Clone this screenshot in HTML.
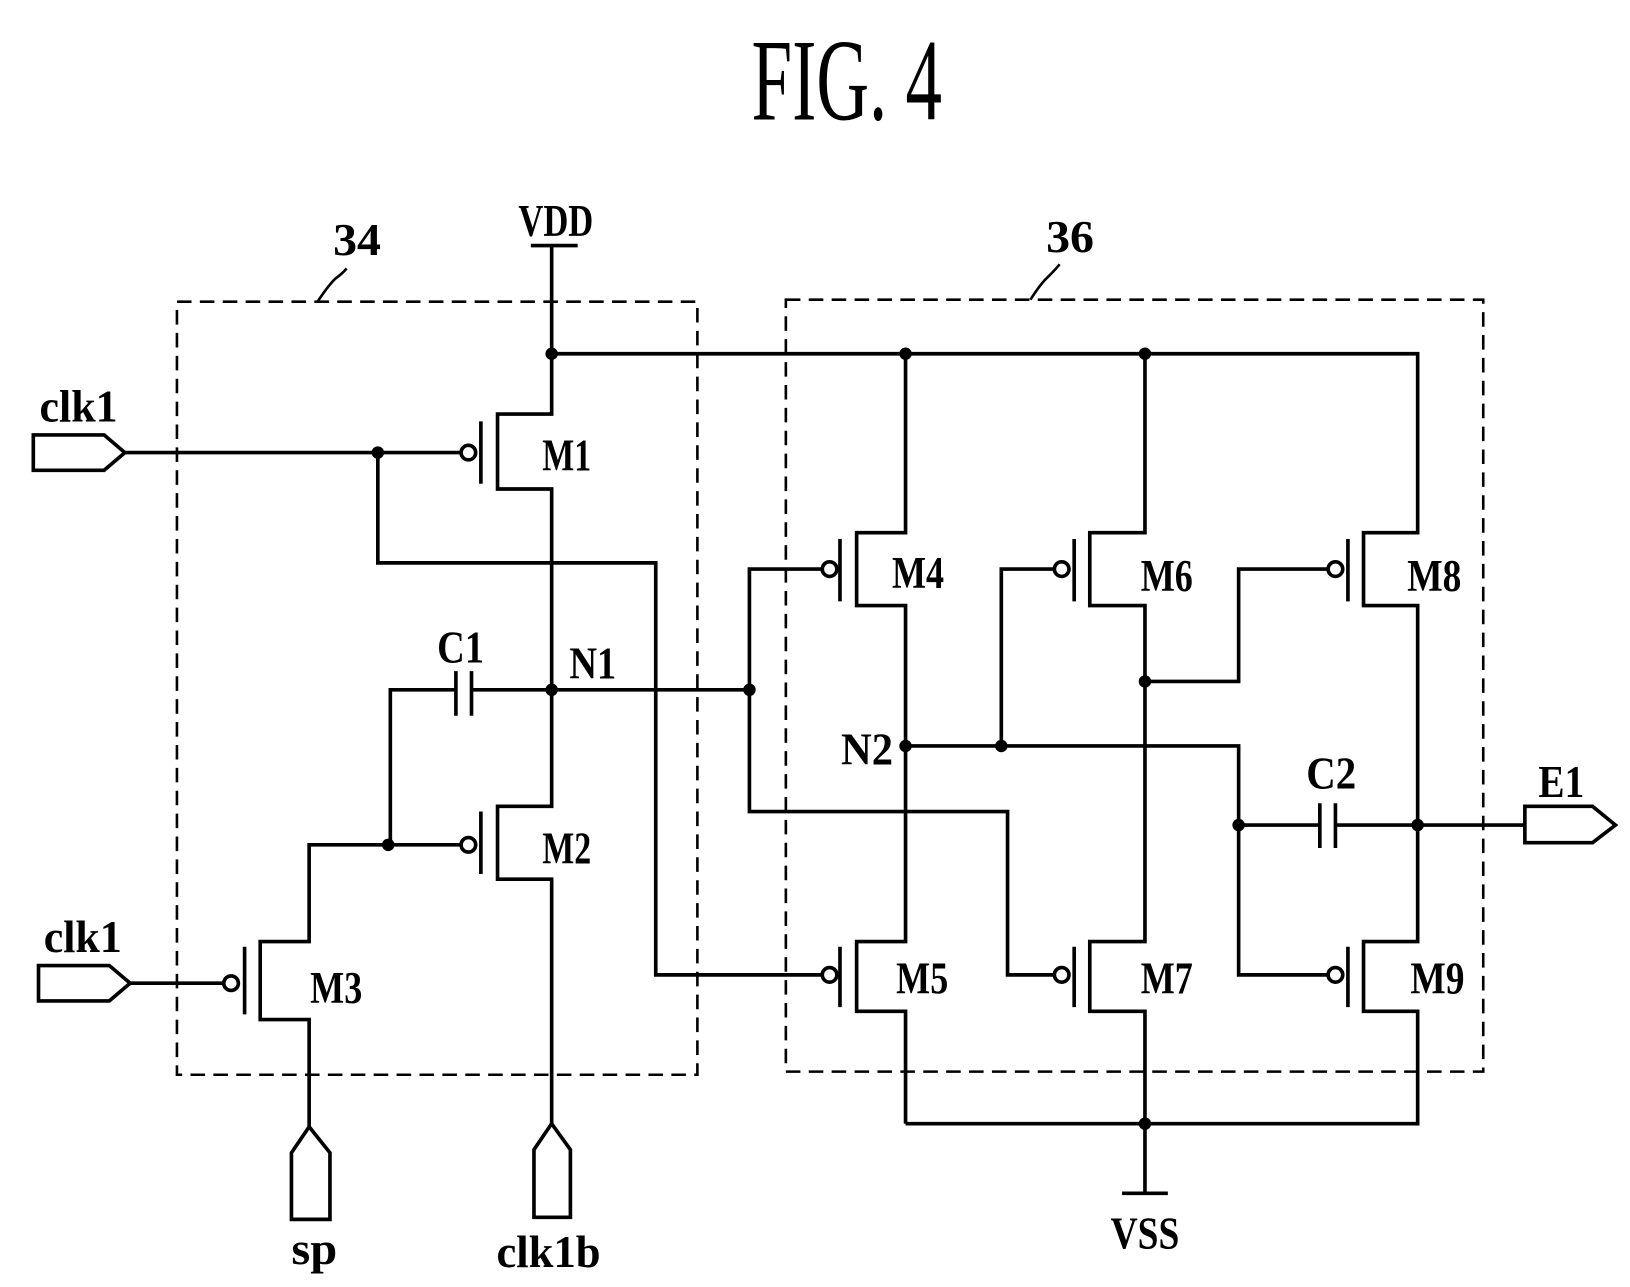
<!DOCTYPE html>
<html><head><style>html,body{margin:0;padding:0;background:#fff}svg{display:block}</style></head>
<body>
<svg width="1630" height="1287" viewBox="0 0 1566 1237" preserveAspectRatio="none" xmlns="http://www.w3.org/2000/svg">
<g fill="none" stroke="#000" stroke-width="3.5">
<rect x="170" y="290" width="500" height="743" stroke-dasharray="14,8" stroke-width="2.5"/>
<rect x="755" y="288" width="670" height="742" stroke-dasharray="14,8" stroke-width="2.5"/>
<path d="M305 290 Q315 275 322 268 Q330 262 333 258" stroke-width="2.5"/>
<path d="M990 288 Q1000 272 1008 265 Q1015 258 1018 254" stroke-width="2.5"/>
<path d="M510 236 H555 M530 236 V398 H478 V470 H530 V775 H478 V845 H530 V1080"/>
<path d="M462 405 V465 M462 780 V840"/>
<path d="M530 340 H1362 V512 H1310 V582 H1362 V905 H1310 V972 H1362 V1080 H870"/>
<path d="M870 340 V512 H823 V582 H870 V905 H823 V972 H870 V1080"/>
<path d="M1100 340 V512 H1047 V582 H1100 V905 H1047 V972 H1100 V1147 M1078 1147 H1122"/>
<path d="M807 518 V578 M807 910 V968 M1032 518 V578 M1032 910 V968 M1295 518 V578 M1295 910 V968"/>
<path d="M32 418 H100 L120 435 L100 452 H32 Z"/>
<path d="M120 435 H443 M363 435 V541 H630 V937 H790"/>
<path d="M375 812 V663 H438 M438 645 V688 M453 645 V688 M453 663 H720 V547 H790 M720 663 V780 H968 V937 H1013"/>
<path d="M375 812 H443 M373 812 H297 V905 H250 V980 H297 V1083"/>
<path d="M235 910 V975"/>
<path d="M37 928 H105 L125 945 L105 962 H37 Z M125 945 H215"/>
<path d="M297 1083 L317 1108 V1172 H280 V1108 Z"/>
<path d="M530 1080 L548 1105 V1170 H513 V1105 Z"/>
<path d="M870 717 H1190 V937 H1276 M962 717 V547 H1013"/>
<path d="M1100 655 H1190 V547 H1276"/>
<path d="M1190 793 H1268 M1268 772 V815 M1283 772 V815 M1283 793 H1465"/>
<path d="M1465 775 H1530 L1552 793 L1530 810 H1465 Z"/>
<circle cx="450" cy="435" r="7"/><circle cx="450" cy="812" r="7"/><circle cx="222" cy="945" r="7"/>
<circle cx="797" cy="547" r="7"/><circle cx="797" cy="937" r="7"/>
<circle cx="1020" cy="547" r="7"/><circle cx="1020" cy="937" r="7"/>
<circle cx="1283" cy="547" r="7"/><circle cx="1283" cy="937" r="7"/>
</g>
<g fill="#000">
<circle cx="530" cy="340" r="6"/><circle cx="870" cy="340" r="6"/><circle cx="1100" cy="340" r="6"/>
<circle cx="363" cy="435" r="6"/><circle cx="530" cy="663" r="6"/><circle cx="720" cy="663" r="6"/>
<circle cx="373" cy="812" r="6"/><circle cx="870" cy="717" r="6"/><circle cx="962" cy="717" r="6"/>
<circle cx="1100" cy="655" r="6"/><circle cx="1190" cy="793" r="6"/><circle cx="1362" cy="793" r="6"/>
<circle cx="1100" cy="1080" r="6"/>
</g>
<g font-family="'Liberation Serif',serif" font-weight="bold" fill="#000" font-size="44">
<text x="722" y="115" font-size="112" font-weight="normal" textLength="183" lengthAdjust="spacingAndGlyphs">FIG. 4</text>
<text x="498" y="227" textLength="72" lengthAdjust="spacingAndGlyphs">VDD</text>
<text x="320" y="245" textLength="46" lengthAdjust="spacingAndGlyphs">34</text>
<text x="1005" y="242" textLength="46" lengthAdjust="spacingAndGlyphs">36</text>
<text x="38" y="405" textLength="75" lengthAdjust="spacingAndGlyphs">clk1</text>
<text x="42" y="915" textLength="75" lengthAdjust="spacingAndGlyphs">clk1</text>
<text x="521" y="452" textLength="47" lengthAdjust="spacingAndGlyphs">M1</text>
<text x="521" y="830" textLength="47" lengthAdjust="spacingAndGlyphs">M2</text>
<text x="298" y="964" textLength="50" lengthAdjust="spacingAndGlyphs">M3</text>
<text x="857" y="565" textLength="50" lengthAdjust="spacingAndGlyphs">M4</text>
<text x="861" y="955" textLength="50" lengthAdjust="spacingAndGlyphs">M5</text>
<text x="1096" y="568" textLength="50" lengthAdjust="spacingAndGlyphs">M6</text>
<text x="1096" y="955" textLength="50" lengthAdjust="spacingAndGlyphs">M7</text>
<text x="1352" y="568" textLength="52" lengthAdjust="spacingAndGlyphs">M8</text>
<text x="1355" y="955" textLength="52" lengthAdjust="spacingAndGlyphs">M9</text>
<text x="420" y="637" textLength="45" lengthAdjust="spacingAndGlyphs">C1</text>
<text x="547" y="652" textLength="45" lengthAdjust="spacingAndGlyphs">N1</text>
<text x="808" y="735" textLength="50" lengthAdjust="spacingAndGlyphs">N2</text>
<text x="1255" y="758" textLength="48" lengthAdjust="spacingAndGlyphs">C2</text>
<text x="1478" y="766" textLength="44" lengthAdjust="spacingAndGlyphs">E1</text>
<text x="280" y="1215" textLength="44" lengthAdjust="spacingAndGlyphs">sp</text>
<text x="477" y="1218" textLength="100" lengthAdjust="spacingAndGlyphs">clk1b</text>
<text x="1067" y="1200" textLength="66" lengthAdjust="spacingAndGlyphs">VSS</text>
</g>
</svg>
</body></html>
